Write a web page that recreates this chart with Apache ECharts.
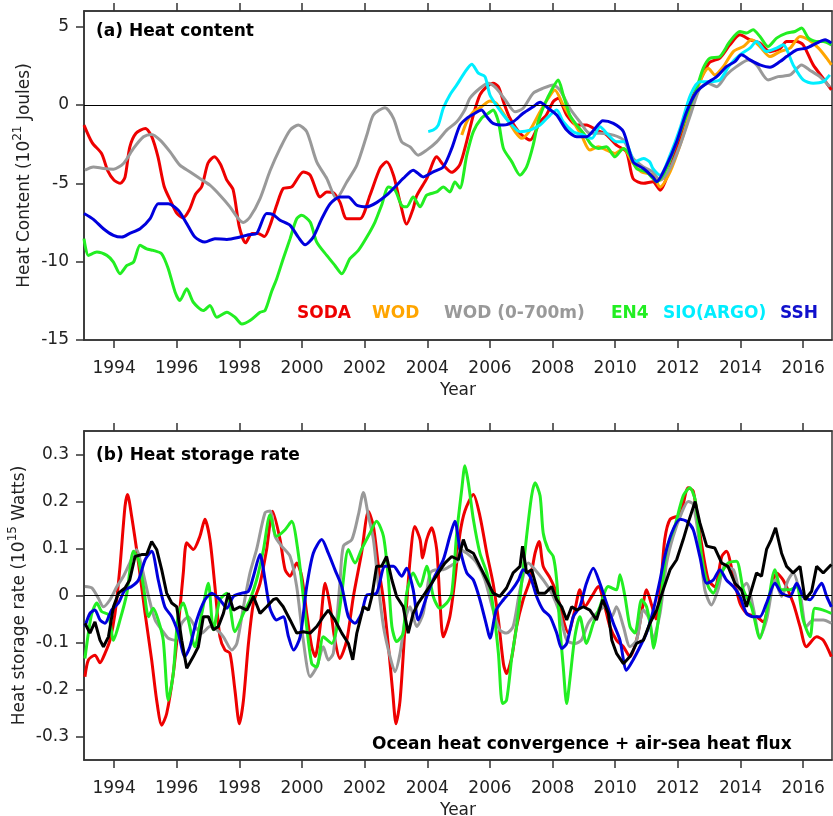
<!DOCTYPE html>
<html><head><meta charset="utf-8">
<script src="https://cdn.jsdelivr.net/npm/echarts@6/dist/echarts.min.js"></script>
<style>html,body{margin:0;padding:0;background:#fff}#c{width:833px;height:816px}</style>
</head><body><div id="c"></div>
<script>
// ---------- tick labels ----------
const yearTicks = [1994,1996,1998,2000,2002,2004,2006,2008,2010,2012,2014,2016];
const hcTicks = [-15,-10,-5,0,5];
const hsrTicks = [-0.3,-0.2,-0.1,0,0.1,0.2,0.3];

// ---------- (a) Heat content, 10^21 J : [year, value] ----------
const sodaHC = [[1993.04,-1.28],[1993.3,-2.4],[1993.6,-3.1],[1993.8,-4.2],[1994.0,-4.8],[1994.2,-5.0],[1994.35,-4.6],[1994.5,-2.7],[1994.7,-1.8],[1995.0,-1.5],[1995.2,-2.0],[1995.4,-3.3],[1995.6,-5.2],[1995.8,-6.1],[1996.0,-6.9],[1996.2,-7.2],[1996.4,-6.7],[1996.6,-5.7],[1996.8,-5.2],[1997.0,-3.7],[1997.2,-3.3],[1997.4,-3.8],[1997.6,-4.8],[1997.8,-5.4],[1998.0,-7.8],[1998.2,-8.8],[1998.4,-8.2],[1998.6,-8.2],[1998.8,-8.4],[1998.98,-7.68],[1999.19,-6.4],[1999.4,-5.33],[1999.67,-5.23],[2000.04,-4.27],[2000.26,-4.48],[2000.58,-5.87],[2000.79,-5.55],[2001.0,-5.6],[2001.21,-6.2],[2001.43,-7.26],[2001.85,-7.26],[2002.17,-5.76],[2002.49,-4.05],[2002.7,-3.63],[2002.92,-4.48],[2003.13,-6.2],[2003.34,-7.6],[2003.55,-6.6],[2003.66,-5.8],[2003.98,-4.7],[2004.3,-3.3],[2004.5,-3.8],[2004.78,-4.3],[2005.04,-3.8],[2005.26,-2.3],[2005.47,-0.64],[2005.68,0.64],[2005.9,1.17],[2006.1,1.39],[2006.27,1.17],[2006.43,0.21],[2006.64,-0.85],[2006.96,-1.8],[2007.28,-2.24],[2007.6,-1.07],[2007.8,-0.64],[2008.02,0.21],[2008.18,0.43],[2008.45,-0.64],[2008.77,-1.28],[2009.08,-1.28],[2009.4,-1.6],[2009.72,-1.9],[2010.04,-2.56],[2010.36,-3.0],[2010.57,-4.7],[2010.9,-5.0],[2011.2,-4.9],[2011.43,-5.44],[2011.75,-4.0],[2012.07,-2.1],[2012.4,0.2],[2012.7,1.5],[2013.0,2.7],[2013.34,3.0],[2013.66,3.84],[2013.98,4.48],[2014.3,4.16],[2014.62,3.95],[2014.94,3.4],[2015.26,3.6],[2015.47,4.05],[2015.79,4.05],[2016.0,3.84],[2016.32,2.56],[2016.64,1.7],[2016.9,0.96]];
const wodHC = [[2005.1,-1.92],[2005.26,-1.07],[2005.47,-0.43],[2005.73,-0.11],[2006.0,0.26],[2006.2,0.11],[2006.53,-0.85],[2006.8,-1.7],[2007.01,-2.13],[2007.28,-1.6],[2007.6,-0.43],[2007.86,0.43],[2008.07,0.96],[2008.34,0],[2008.66,-1.07],[2008.92,-1.92],[2009.19,-2.88],[2009.46,-2.67],[2009.72,-2.88],[2009.99,-3.09],[2010.26,-2.77],[2010.57,-3.73],[2010.84,-4.27],[2011.2,-4.48],[2011.43,-5.23],[2011.75,-4.27],[2012.07,-2.56],[2012.4,-0.43],[2012.7,1.49],[2012.97,2.35],[2013.18,1.92],[2013.45,2.45],[2013.77,3.41],[2014.09,3.73],[2014.35,4.16],[2014.62,3.73],[2014.94,3.09],[2015.26,3.41],[2015.58,3.63],[2015.9,4.37],[2016.17,4.16],[2016.49,3.63],[2016.75,2.99],[2016.9,2.56]];
const wod700HC = [[1993.07,-4.16],[1993.34,-3.95],[1993.66,-4.05],[1993.98,-4.1],[1994.3,-3.73],[1994.62,-2.77],[1994.94,-2.03],[1995.2,-1.88],[1995.47,-2.24],[1995.79,-2.99],[1996.1,-3.84],[1996.43,-4.27],[1996.74,-4.69],[1997.06,-5.12],[1997.38,-5.76],[1997.7,-6.5],[1997.97,-7.26],[1998.13,-7.5],[1998.34,-7.15],[1998.66,-5.97],[1998.98,-4.2],[1999.3,-2.77],[1999.62,-1.6],[1999.88,-1.28],[2000.15,-1.7],[2000.47,-3.63],[2000.79,-4.69],[2001.1,-5.97],[2001.43,-4.91],[2001.75,-3.84],[2002.07,-1.92],[2002.28,-0.64],[2002.65,-0.17],[2002.92,-0.85],[2003.18,-2.35],[2003.45,-2.67],[2003.71,-3.2],[2003.98,-2.88],[2004.3,-2.35],[2004.62,-1.6],[2004.94,-1.07],[2005.2,-0.3],[2005.36,0.43],[2005.68,1.07],[2005.95,1.39],[2006.2,1.07],[2006.53,0.21],[2006.8,-0.43],[2007.06,-0.21],[2007.38,0.75],[2007.7,1.07],[2008.02,1.28],[2008.23,0.96],[2008.55,-0.21],[2008.87,-1.07],[2009.19,-1.81],[2009.51,-1.81],[2009.94,-1.92],[2010.26,-2.24],[2010.57,-3.41],[2010.9,-3.95],[2011.2,-4.27],[2011.43,-4.8],[2011.75,-4.05],[2012.07,-2.56],[2012.4,-0.64],[2012.7,1.07],[2012.97,1.39],[2013.24,1.17],[2013.55,1.92],[2013.87,2.45],[2014.25,2.88],[2014.51,2.56],[2014.88,1.6],[2015.2,1.81],[2015.58,1.92],[2015.95,2.56],[2016.2,2.24],[2016.53,1.81],[2016.85,1.17]];
const en4HC = [[1993.04,-8.53],[1993.18,-9.6],[1993.45,-9.39],[1993.77,-9.6],[1993.98,-10.03],[1994.19,-10.77],[1994.41,-10.24],[1994.62,-10.03],[1994.83,-8.96],[1995.04,-9.18],[1995.25,-9.28],[1995.52,-9.5],[1995.73,-10.45],[1995.95,-11.95],[1996.1,-12.48],[1996.32,-11.73],[1996.53,-12.59],[1996.85,-13.12],[1997.06,-12.8],[1997.28,-13.55],[1997.6,-13.23],[1997.86,-13.55],[1998.08,-13.98],[1998.34,-13.76],[1998.66,-13.23],[1998.82,-13.12],[1999.03,-11.9],[1999.19,-11.1],[1999.4,-9.81],[1999.62,-8.53],[1999.83,-7.26],[1999.99,-7.04],[2000.26,-7.47],[2000.47,-8.75],[2000.79,-9.6],[2001.05,-10.24],[2001.27,-10.77],[2001.53,-9.81],[2001.8,-9.28],[2002.07,-8.43],[2002.33,-7.47],[2002.54,-6.4],[2002.76,-5.23],[2002.97,-5.44],[2003.18,-6.4],[2003.34,-6.5],[2003.55,-5.87],[2003.77,-6.5],[2003.98,-5.76],[2004.3,-5.55],[2004.51,-5.23],[2004.72,-5.55],[2004.88,-4.91],[2005.04,-5.3],[2005.26,-3.2],[2005.47,-1.7],[2005.73,-0.85],[2005.95,-0.53],[2006.1,-0.32],[2006.27,-1.07],[2006.43,-2.77],[2006.7,-3.63],[2006.96,-4.48],[2007.17,-3.95],[2007.38,-2.56],[2007.54,-1.07],[2007.76,0.11],[2007.97,0.96],[2008.18,1.6],[2008.34,0.64],[2008.55,-0.64],[2008.77,-1.28],[2009.03,-1.92],[2009.25,-2.56],[2009.46,-2.77],[2009.72,-2.67],[2009.99,-3.31],[2010.26,-2.77],[2010.47,-3.2],[2010.68,-4.05],[2011.0,-4.27],[2011.2,-4.69],[2011.32,-4.91],[2011.64,-4.05],[2011.96,-2.35],[2012.28,-0.64],[2012.6,1.07],[2012.81,2.35],[2013.02,2.99],[2013.34,3.09],[2013.66,4.05],[2013.98,4.69],[2014.19,4.59],[2014.4,4.8],[2014.62,4.37],[2014.88,3.73],[2015.15,4.27],[2015.47,4.59],[2015.74,4.69],[2015.95,4.91],[2016.17,4.27],[2016.43,4.05],[2016.64,4.05],[2016.9,3.84]];
const sioHC = [[2004.03,-1.7],[2004.19,-1.6],[2004.35,-1.28],[2004.51,-0.21],[2004.72,0.64],[2004.94,1.28],[2005.2,2.1],[2005.42,2.6],[2005.63,2.03],[2005.84,1.81],[2006.0,0.64],[2006.2,0],[2006.43,-0.64],[2006.7,-1.28],[2006.96,-1.7],[2007.28,-1.6],[2007.6,-1.28],[2007.92,-0.64],[2008.13,-0.32],[2008.34,-1.07],[2008.66,-1.7],[2008.98,-1.92],[2009.25,-2.13],[2009.51,-1.39],[2009.78,-1.92],[2010.04,-2.35],[2010.31,-2.35],[2010.63,-3.63],[2010.9,-3.41],[2011.1,-3.63],[2011.2,-4.05],[2011.43,-4.48],[2011.75,-3.2],[2012.07,-1.49],[2012.4,0.64],[2012.7,1.49],[2013.02,1.49],[2013.34,1.6],[2013.66,2.56],[2013.98,3.2],[2014.3,3.63],[2014.51,4.05],[2014.83,3.41],[2015.15,3.63],[2015.36,3.84],[2015.68,2.56],[2016.0,1.6],[2016.32,1.39],[2016.64,1.49],[2016.85,1.92]];
const sshHC = [[1993.04,-6.93],[1993.34,-7.3],[1993.66,-7.9],[1993.98,-8.32],[1994.25,-8.43],[1994.5,-8.2],[1994.83,-7.9],[1995.15,-7.26],[1995.41,-6.3],[1995.73,-6.3],[1996.05,-6.72],[1996.32,-7.57],[1996.58,-8.43],[1996.9,-8.75],[1997.22,-8.53],[1997.6,-8.58],[1998.02,-8.43],[1998.29,-8.28],[1998.55,-8.2],[1998.87,-6.93],[1999.08,-7.0],[1999.3,-7.36],[1999.62,-7.68],[1999.88,-8.43],[2000.1,-8.92],[2000.36,-8.43],[2000.63,-7.26],[2000.9,-6.3],[2001.21,-5.87],[2001.48,-5.87],[2001.75,-6.4],[2002.07,-6.5],[2002.38,-6.23],[2002.7,-5.76],[2003.02,-5.12],[2003.23,-4.69],[2003.55,-4.16],[2003.87,-4.59],[2004.19,-4.27],[2004.51,-3.95],[2004.78,-2.77],[2005.04,-1.3],[2005.26,-0.85],[2005.52,-0.53],[2005.73,-0.32],[2005.9,-0.75],[2006.1,-1.17],[2006.43,-1.28],[2006.74,-1.07],[2007.06,-0.53],[2007.38,-0.11],[2007.6,0.17],[2007.86,-0.21],[2008.13,-0.64],[2008.45,-1.6],[2008.77,-2.03],[2009.08,-2.03],[2009.4,-1.39],[2009.6,-1.0],[2009.94,-1.17],[2010.26,-1.7],[2010.57,-3.63],[2010.9,-4.05],[2011.2,-4.6],[2011.32,-4.9],[2011.64,-3.84],[2011.96,-2.35],[2012.28,-0.43],[2012.6,0.85],[2012.92,1.39],[2013.24,1.81],[2013.55,2.45],[2013.82,2.77],[2014.03,3.2],[2014.3,2.88],[2014.62,2.56],[2014.94,2.41],[2015.26,2.77],[2015.47,3.09],[2015.79,3.52],[2016.1,3.63],[2016.43,3.95],[2016.7,4.16],[2016.9,3.95]];

// ---------- (b) Heat storage rate, 10^15 W : [year, value] ----------
const sodaHSR = [[1993.07,-0.173],[1993.18,-0.137],[1993.39,-0.127],[1993.55,-0.143],[1993.71,-0.123],[1993.87,-0.095],[1994.03,-0.038],[1994.19,0.062],[1994.35,0.19],[1994.43,0.215],[1994.56,0.169],[1994.78,0.069],[1994.99,-0.038],[1995.2,-0.137],[1995.36,-0.223],[1995.52,-0.276],[1995.68,-0.251],[1995.89,-0.166],[1996.05,-0.066],[1996.21,0.048],[1996.32,0.112],[1996.53,0.098],[1996.74,0.126],[1996.9,0.162],[1997.06,0.119],[1997.22,0.019],[1997.38,-0.088],[1997.54,-0.116],[1997.7,-0.123],[1997.86,-0.202],[1998.0,-0.273],[1998.13,-0.223],[1998.29,-0.102],[1998.45,-0.016],[1998.66,0.026],[1998.87,0.098],[1999.06,0.179],[1999.3,0.119],[1999.46,0.055],[1999.62,0.041],[1999.83,0.069],[1999.99,0.041],[2000.15,-0.038],[2000.31,-0.109],[2000.42,-0.13],[2000.58,-0.066],[2000.74,0.026],[2000.9,-0.024],[2001.05,-0.095],[2001.21,-0.134],[2001.43,-0.095],[2001.64,-0.002],[2001.9,0.09],[2002.12,0.179],[2002.28,0.147],[2002.44,0.062],[2002.6,-0.009],[2002.76,-0.109],[2002.9,-0.209],[2003.0,-0.273],[2003.13,-0.223],[2003.29,-0.066],[2003.45,0.076],[2003.6,0.147],[2003.77,0.119],[2003.85,0.08],[2003.98,0.119],[2004.14,0.144],[2004.3,0.098],[2004.4,-0.009],[2004.51,-0.088],[2004.72,-0.045],[2004.88,0.033],[2005.04,0.13],[2005.2,0.18],[2005.47,0.215],[2005.68,0.169],[2005.9,0.09],[2006.1,0.026],[2006.27,-0.052],[2006.43,-0.145],[2006.53,-0.166],[2006.7,-0.13],[2006.85,-0.066],[2007.06,-0.009],[2007.28,0.033],[2007.44,0.09],[2007.57,0.115],[2007.7,0.062],[2007.92,0.037],[2008.13,0.005],[2008.34,-0.052],[2008.5,-0.08],[2008.71,-0.031],[2008.87,0.012],[2009.03,-0.024],[2009.25,-0.002],[2009.46,0.019],[2009.67,-0.024],[2009.83,-0.066],[2010.04,-0.095],[2010.26,-0.109],[2010.47,-0.13],[2010.68,-0.095],[2010.84,-0.038],[2011.0,0.012],[2011.16,-0.02],[2011.3,-0.05],[2011.45,0.02],[2011.58,0.119],[2011.75,0.162],[2012.07,0.172],[2012.33,0.229],[2012.49,0.222],[2012.7,0.133],[2012.97,0.033],[2013.18,0.019],[2013.4,0.083],[2013.55,0.094],[2013.77,0.041],[2013.98,-0.016],[2014.19,-0.038],[2014.51,-0.045],[2014.72,-0.056],[2014.98,0.012],[2015.15,0.048],[2015.36,0.033],[2015.68,-0.016],[2015.9,-0.066],[2016.1,-0.109],[2016.43,-0.088],[2016.64,-0.095],[2016.9,-0.13]];
const wod700HSR = [[1993.07,0.019],[1993.29,0.016],[1993.5,-0.006],[1993.66,-0.024],[1993.87,-0.009],[1994.09,0.019],[1994.3,0.041],[1994.5,0.069],[1994.72,0.098],[1994.88,0.062],[1995.1,-0.002],[1995.31,-0.052],[1995.52,-0.073],[1995.73,-0.091],[1995.95,-0.095],[1996.16,-0.059],[1996.37,-0.045],[1996.58,-0.066],[1996.8,-0.08],[1997.06,-0.066],[1997.28,-0.073],[1997.49,-0.088],[1997.76,-0.116],[1997.92,-0.102],[1998.13,-0.024],[1998.34,0.048],[1998.55,0.098],[1998.82,0.176],[1998.98,0.18],[1999.14,0.126],[1999.35,0.105],[1999.62,0.083],[1999.83,0.019],[2000.04,-0.095],[2000.26,-0.173],[2000.47,-0.152],[2000.68,-0.109],[2000.84,-0.137],[2001.0,-0.123],[2001.21,0.026],[2001.32,0.105],[2001.59,0.119],[2001.8,0.172],[2001.96,0.219],[2002.12,0.169],[2002.28,0.119],[2002.44,0.019],[2002.6,-0.066],[2002.81,-0.13],[2002.97,-0.162],[2003.13,-0.123],[2003.29,-0.052],[2003.45,-0.024],[2003.66,-0.066],[2003.87,-0.038],[2004.09,0.048],[2004.3,0.055],[2004.51,0.055],[2004.72,0.062],[2004.99,0.076],[2005.04,0.098],[2005.26,0.09],[2005.58,0.069],[2005.84,0.033],[2006.1,-0.031],[2006.31,-0.073],[2006.53,-0.08],[2006.74,-0.066],[2006.96,0.012],[2007.23,0.069],[2007.44,0.055],[2007.7,0.033],[2007.97,0.005],[2008.23,-0.038],[2008.45,-0.095],[2008.71,-0.102],[2008.92,-0.095],[2009.14,-0.059],[2009.4,-0.038],[2009.67,-0.024],[2009.89,-0.045],[2010.04,-0.024],[2010.26,-0.066],[2010.47,-0.109],[2010.68,-0.095],[2010.9,-0.031],[2011.1,-0.052],[2011.2,-0.095],[2011.43,-0.038],[2011.64,0.069],[2011.85,0.126],[2012.12,0.176],[2012.33,0.2],[2012.49,0.194],[2012.7,0.105],[2012.86,0.012],[2013.07,-0.02],[2013.28,0.012],[2013.49,0.062],[2013.77,0.055],[2013.98,0.012],[2014.19,0.026],[2014.4,-0.024],[2014.62,-0.088],[2014.83,-0.052],[2015.1,0.033],[2015.31,-0.002],[2015.52,0.033],[2015.68,0.048],[2015.9,0.005],[2016.1,-0.066],[2016.32,-0.052],[2016.64,-0.052],[2016.9,-0.059]];
const en4HSR = [[1993.07,-0.134],[1993.18,-0.08],[1993.29,-0.038],[1993.45,-0.016],[1993.6,-0.034],[1993.82,-0.041],[1993.98,-0.095],[1994.19,-0.052],[1994.41,0.005],[1994.62,0.094],[1994.78,0.076],[1994.94,0.019],[1995.1,-0.045],[1995.25,-0.027],[1995.41,-0.052],[1995.57,-0.095],[1995.73,-0.223],[1995.89,-0.166],[1996.05,-0.038],[1996.21,-0.016],[1996.37,-0.052],[1996.58,-0.109],[1996.8,-0.038],[1997.01,0.026],[1997.17,-0.073],[1997.38,-0.009],[1997.6,0.005],[1997.86,-0.077],[1998.13,-0.038],[1998.34,-0.009],[1998.55,0.033],[1998.77,0.098],[1998.98,0.172],[1999.19,0.126],[1999.46,0.14],[1999.67,0.158],[1999.88,0.09],[2000.1,-0.038],[2000.31,-0.145],[2000.47,-0.152],[2000.68,-0.088],[2000.95,-0.102],[2001.1,-0.073],[2001.27,0.005],[2001.48,0.098],[2001.69,0.069],[2001.9,0.098],[2002.17,0.133],[2002.38,0.158],[2002.6,0.126],[2002.76,0.033],[2002.87,-0.066],[2003.02,-0.098],[2003.23,-0.08],[2003.34,0.005],[2003.55,0.048],[2003.77,0.019],[2003.98,0.062],[2004.19,-0.002],[2004.4,-0.027],[2004.62,-0.016],[2004.78,0.005],[2004.94,0.133],[2005.1,0.226],[2005.2,0.276],[2005.31,0.24],[2005.47,0.162],[2005.68,0.09],[2005.9,0.048],[2006.1,-0.024],[2006.27,-0.123],[2006.4,-0.23],[2006.53,-0.223],[2006.7,-0.13],[2006.85,-0.066],[2007.01,0.026],[2007.17,0.126],[2007.33,0.212],[2007.44,0.24],[2007.6,0.212],[2007.7,0.133],[2007.86,0.098],[2008.02,0.083],[2008.13,0.033],[2008.23,-0.066],[2008.34,-0.152],[2008.45,-0.23],[2008.55,-0.18],[2008.71,-0.088],[2008.87,-0.045],[2009.08,-0.102],[2009.3,-0.059],[2009.51,-0.024],[2009.78,0.019],[2010.04,0.012],[2010.15,0.044],[2010.31,-0.002],[2010.47,-0.066],[2010.63,-0.08],[2010.84,-0.009],[2011.0,-0.024],[2011.16,-0.08],[2011.22,-0.112],[2011.43,-0.024],[2011.64,0.098],[2011.9,0.147],[2012.17,0.212],[2012.38,0.229],[2012.55,0.204],[2012.76,0.083],[2012.97,0.019],[2013.13,0.005],[2013.34,0.041],[2013.6,0.069],[2013.87,0.073],[2014.09,0.012],[2014.35,-0.024],[2014.62,-0.091],[2014.83,-0.038],[2015.1,0.055],[2015.31,0.012],[2015.58,0.012],[2015.79,0.019],[2016.0,-0.052],[2016.22,-0.088],[2016.37,-0.027],[2016.64,-0.031],[2016.9,-0.038]];
const sshHSR = [[1993.07,-0.066],[1993.23,-0.038],[1993.39,-0.031],[1993.55,-0.052],[1993.71,-0.059],[1993.92,-0.031],[1994.14,-0.016],[1994.35,0.012],[1994.56,0.019],[1994.78,0.033],[1994.99,0.076],[1995.2,0.094],[1995.41,0.033],[1995.62,-0.024],[1995.84,-0.045],[1996.05,-0.08],[1996.26,-0.13],[1996.42,-0.109],[1996.64,-0.052],[1996.9,-0.009],[1997.12,0.005],[1997.38,-0.009],[1997.6,-0.027],[1997.81,-0.002],[1998.08,0.005],[1998.29,0.009],[1998.45,0.041],[1998.66,0.087],[1998.82,0.033],[1998.98,-0.028],[1999.19,-0.052],[1999.4,-0.045],[1999.57,-0.088],[1999.73,-0.116],[1999.94,-0.088],[2000.15,0.019],[2000.36,0.09],[2000.63,0.119],[2000.84,0.09],[2001.05,0.055],[2001.27,0.019],[2001.48,-0.045],[2001.69,-0.059],[2001.9,-0.038],[2002.07,0.001],[2002.38,0.005],[2002.65,0.062],[2002.92,0.062],[2003.18,0.041],[2003.34,0.058],[2003.55,0.012],[2003.71,-0.052],[2003.98,-0.002],[2004.24,0.041],[2004.51,0.076],[2004.72,0.126],[2004.88,0.158],[2005.04,0.1],[2005.26,0.048],[2005.47,0.033],[2005.68,-0.009],[2005.9,-0.066],[2006.0,-0.091],[2006.2,-0.031],[2006.43,-0.009],[2006.7,0.012],[2006.91,0.033],[2007.06,0.055],[2007.28,0.041],[2007.49,-0.002],[2007.7,-0.031],[2007.92,-0.045],[2008.13,-0.08],[2008.29,-0.113],[2008.45,-0.102],[2008.66,-0.045],[2008.87,-0.024],[2009.08,0.026],[2009.3,0.058],[2009.51,0.026],[2009.72,-0.016],[2009.94,-0.059],[2010.15,-0.095],[2010.36,-0.159],[2010.57,-0.137],[2010.79,-0.109],[2011.0,-0.08],[2011.2,-0.035],[2011.43,0.033],[2011.58,0.083],[2011.8,0.133],[2012.07,0.162],[2012.28,0.158],[2012.49,0.14],[2012.7,0.083],[2012.92,0.026],[2013.13,0.033],[2013.34,0.055],[2013.55,0.033],[2013.77,0.019],[2013.98,-0.002],[2014.19,-0.038],[2014.4,-0.045],[2014.62,-0.045],[2014.83,-0.016],[2015.1,0.026],[2015.31,0.005],[2015.58,-0.002],[2015.79,0.026],[2016.0,-0.002],[2016.22,-0.009],[2016.43,0.012],[2016.59,0.026],[2016.75,-0.002],[2016.9,-0.024]];
const convHSR = [[1993.07,-0.059],[1993.23,-0.08],[1993.39,-0.056],[1993.55,-0.095],[1993.66,-0.109],[1993.82,-0.088],[1993.98,-0.024],[1994.14,0.005],[1994.35,0.016],[1994.5,0.033],[1994.67,0.083],[1994.88,0.087],[1995.04,0.087],[1995.2,0.115],[1995.36,0.098],[1995.52,0.055],[1995.68,0.005],[1995.84,-0.016],[1996.0,-0.024],[1996.16,-0.095],[1996.32,-0.155],[1996.53,-0.13],[1996.69,-0.109],[1996.85,-0.045],[1997.01,-0.045],[1997.17,-0.073],[1997.33,-0.066],[1997.49,-0.038],[1997.65,0.005],[1997.81,-0.031],[1998.02,-0.024],[1998.24,-0.031],[1998.45,-0.002],[1998.66,-0.038],[1998.87,-0.024],[1999.08,-0.009],[1999.19,-0.006],[1999.4,-0.024],[1999.62,-0.052],[1999.83,-0.08],[2000.04,-0.077],[2000.26,-0.08],[2000.47,-0.066],[2000.68,-0.045],[2000.84,-0.031],[2001.05,-0.052],[2001.27,-0.08],[2001.48,-0.102],[2001.62,-0.137],[2001.75,-0.08],[2001.96,-0.024],[2002.12,-0.031],[2002.23,-0.002],[2002.38,0.062],[2002.54,0.062],[2002.7,0.083],[2002.87,0.033],[2003.02,-0.002],[2003.23,-0.024],[2003.39,-0.08],[2003.55,-0.038],[2003.71,-0.016],[2003.93,0.005],[2004.14,0.026],[2004.35,0.048],[2004.56,0.069],[2004.78,0.083],[2004.99,0.076],[2005.15,0.119],[2005.26,0.098],[2005.47,0.09],[2005.68,0.062],[2005.9,0.033],[2006.1,0.005],[2006.31,-0.002],[2006.53,0.016],[2006.74,0.048],[2006.96,0.062],[2007.04,0.105],[2007.17,0.048],[2007.33,0.055],[2007.54,0.005],[2007.76,0.005],[2007.97,0.019],[2008.13,-0.009],[2008.29,-0.024],[2008.45,-0.052],[2008.61,-0.024],[2008.77,-0.031],[2008.98,-0.024],[2009.19,-0.031],[2009.4,-0.052],[2009.6,-0.009],[2009.78,-0.038],[2009.89,-0.095],[2010.04,-0.123],[2010.26,-0.145],[2010.47,-0.13],[2010.68,-0.102],[2010.9,-0.095],[2011.1,-0.06],[2011.32,-0.031],[2011.53,0.012],[2011.75,0.055],[2011.96,0.076],[2012.17,0.119],[2012.33,0.155],[2012.55,0.2],[2012.7,0.155],[2012.92,0.105],[2013.18,0.101],[2013.4,0.069],[2013.6,0.062],[2013.82,0.026],[2014.03,0.012],[2014.19,-0.024],[2014.35,0.012],[2014.51,0.048],[2014.67,0.041],[2014.83,0.098],[2014.98,0.119],[2015.12,0.144],[2015.31,0.09],[2015.47,0.062],[2015.68,0.048],[2015.9,0.062],[2016.06,-0.009],[2016.27,0.009],[2016.43,0.062],[2016.64,0.048],[2016.9,0.066]];

// ---------- styles ----------
const FONT = 'DejaVu Sans';
const AX = '#333';
const TXT = '#222';
const C = {soda:'#ee0000', wod:'#ffa500', wod700:'#999999', en4:'#22ee22', sio:'#00eeff', ssh:'#0000dd', conv:'#000000'};

function xAx(grid, pos) {
  const bottom = pos === 'bottom';
  return {
    gridIndex: grid, type: 'value', position: pos, min: 1993.04, max: 2016.92,
    name: bottom ? 'Year' : '', nameLocation: 'middle', nameGap: 42, nameMoveOverlap: false,
    nameTextStyle: {fontFamily: FONT, fontSize: 17, color: TXT},
    axisLine: {show: true, onZero: false, lineStyle: {color: AX, width: 1.5}},
    axisTick: {show: true, inside: false, length: 8, customValues: yearTicks, lineStyle: {color: AX, width: 1.5}},
    axisLabel: {show: bottom, customValues: yearTicks, margin: 20, fontFamily: FONT, fontSize: 17, color: TXT, formatter: v => String(v)},
    splitLine: {show: false}
  };
}
function yAx(grid, min, max, ticks, name, gap, fmt) {
  return {
    gridIndex: grid, type: 'value', min: min, max: max,
    name: name, nameLocation: 'middle', nameGap: gap, nameMoveOverlap: false,
    nameTextStyle: {fontFamily: FONT, fontSize: 17, color: TXT,
      rich: {n: {fontFamily: FONT, fontSize: 17, color: TXT, lineHeight: 26}, s: {fontFamily: FONT, fontSize: 12, color: TXT, verticalAlign: 'top', lineHeight: 14}}},
    axisLine: {show: true, onZero: false, lineStyle: {color: AX, width: 1.5}},
    axisTick: {show: true, inside: false, length: 8, customValues: ticks, lineStyle: {color: AX, width: 1.5}},
    axisLabel: {customValues: ticks, margin: 15, fontFamily: FONT, fontSize: 17, color: TXT, formatter: fmt},
    splitLine: {show: false}
  };
}
function line(name, data, color, xi, yi, smooth, extra) {
  return Object.assign({
    name: name, type: 'line', data: data, xAxisIndex: xi, yAxisIndex: yi,
    showSymbol: false, symbol: 'none', smooth: smooth, clip: true,
    lineStyle: {color: color, width: 3}, itemStyle: {color: color}, z: 3
  }, extra || {});
}
const zeroLine = {silent: true, symbol: ['none','none'], label: {show: false},
  lineStyle: {color: '#000', width: 1, type: 'solid'}, data: [{yAxis: 0}]};

const chart = echarts.init(document.getElementById('c'), null, {renderer: 'canvas'});
chart.setOption({
  animation: false,
  backgroundColor: '#ffffff',
  grid: [
    {left: 84, top: 11, width: 748, height: 329, outerBoundsMode: 'none', containLabel: false, show: true, borderColor: AX, borderWidth: 1.5, backgroundColor: 'transparent'},
    {left: 84, top: 431, width: 748, height: 329, outerBoundsMode: 'none', containLabel: false, show: true, borderColor: AX, borderWidth: 1.5, backgroundColor: 'transparent'}
  ],
  xAxis: [xAx(0,'bottom'), xAx(0,'top'), xAx(1,'bottom'), xAx(1,'top')],
  yAxis: [
    yAx(0, -15, 6, hcTicks, '{n|Heat Content (10}{s|21}{n| Joules)}', 46, v => String(v)),
    yAx(1, -0.35, 0.35, hsrTicks, '{n|Heat storage rate (10}{s|15}{n| Watts)}', 51, v => String(Math.round(v*10)/10))
  ],
  series: [
    line('SODA', sodaHC, C.soda, 0, 0, 0.25, {markLine: zeroLine}),
    line('WOD', wodHC, C.wod, 0, 0, 0.25),
    line('WOD (0-700m)', wod700HC, C.wod700, 0, 0, 0.25),
    line('EN4', en4HC, C.en4, 0, 0, 0.25),
    line('SIO(ARGO)', sioHC, C.sio, 0, 0, 0.25),
    line('SSH', sshHC, C.ssh, 0, 0, 0.25),
    line('SODA rate', sodaHSR, C.soda, 2, 1, 0.25, {markLine: zeroLine}),
    line('WOD (0-700m) rate', wod700HSR, C.wod700, 2, 1, 0.25),
    line('EN4 rate', en4HSR, C.en4, 2, 1, 0.25),
    line('SSH rate', sshHSR, C.ssh, 2, 1, 0.25),
    line('Ocean heat convergence + air-sea heat flux', convHSR, C.conv, 2, 1, false)
  ],
  graphic: [
    {type: 'text', left: 96, top: 23, style: {text: '(a) Heat content', font: 'bold 17px "DejaVu Sans"', fill: '#000'}},
    {type: 'text', left: 96, top: 447, style: {text: '(b) Heat storage rate', font: 'bold 17px "DejaVu Sans"', fill: '#000'}},
    {type: 'text', left: 297, top: 305, style: {text: 'SODA', font: 'bold 17px "DejaVu Sans"', fill: C.soda}},
    {type: 'text', left: 372, top: 305, style: {text: 'WOD', font: 'bold 17px "DejaVu Sans"', fill: C.wod}},
    {type: 'text', left: 444, top: 305, style: {text: 'WOD (0-700m)', font: 'bold 17px "DejaVu Sans"', fill: C.wod700}},
    {type: 'text', left: 611, top: 305, style: {text: 'EN4', font: 'bold 17px "DejaVu Sans"', fill: C.en4}},
    {type: 'text', left: 663, top: 305, style: {text: 'SIO(ARGO)', font: 'bold 17px "DejaVu Sans"', fill: C.sio}},
    {type: 'text', left: 780, top: 305, style: {text: 'SSH', font: 'bold 17px "DejaVu Sans"', fill: '#1010cc'}},
    {type: 'text', left: 372, top: 736, style: {text: 'Ocean heat convergence + air-sea heat flux', font: 'bold 17px "DejaVu Sans"', fill: '#000'}}
  ]
});
</script>
</body></html>
